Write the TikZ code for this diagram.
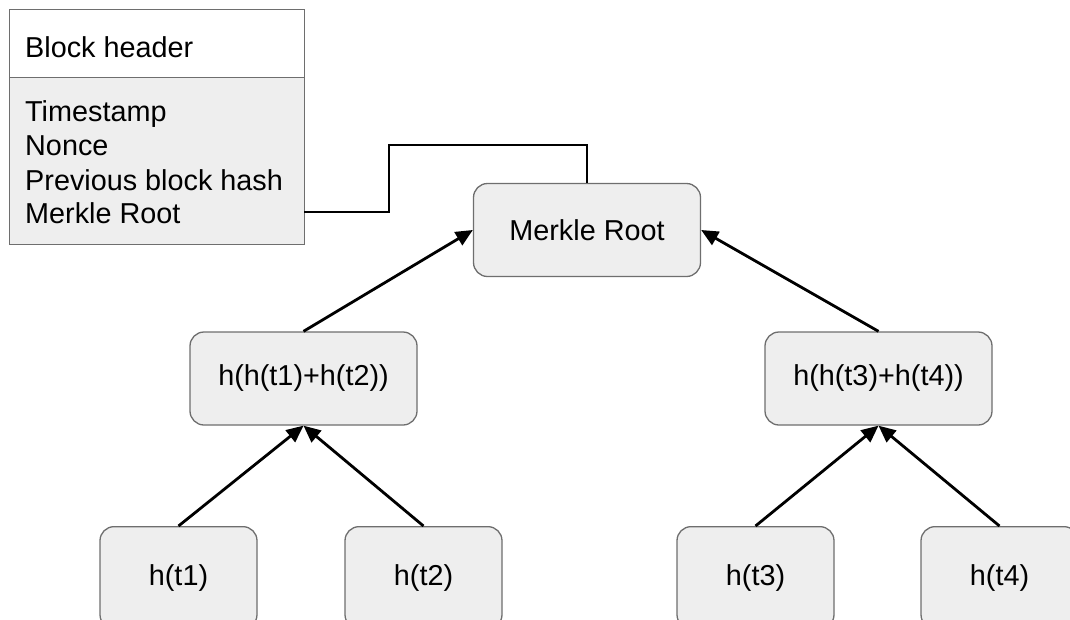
\documentclass[tikz,border=0pt]{standalone}
\usepackage{fontspec}
\setmainfont{Liberation Sans}
\usetikzlibrary{arrows.meta}
\definecolor{boxfill}{HTML}{EEEEEE}
\definecolor{boxline}{HTML}{6E6E6E}
\tikzset{
  hashbox/.style={draw=boxline, line width=1.3pt, fill=boxfill, rounded corners=14pt,
    minimum width=227pt, minimum height=93pt, inner sep=0pt,
    font=\fontsize{28.8}{34.5}\selectfont},
  leafbox/.style={hashbox, minimum width=157pt, minimum height=102pt},
  fieldtext/.style={anchor=base west, inner sep=0pt, font=\fontsize{28.8}{34.5}\selectfont},
  link/.style={line width=2.8pt, -{Triangle[length=17pt,width=15pt]}},
  wire/.style={line width=2.8pt}
}
\begin{document}
\begin{tikzpicture}[x=1pt,y=-1pt]
  \useasboundingbox (0,0) rectangle (1070,619);
  \clip (0,0) rectangle (1070,619);

  % block header table
  \node[draw=boxline, line width=1.3pt, fill=white, minimum width=295pt, minimum height=68pt,
        inner sep=0pt, anchor=north west] (hdr) at (9,9) {};
  \node[draw=boxline, line width=1.3pt, fill=boxfill, minimum width=295pt, minimum height=167pt,
        inner sep=0pt, anchor=north west] (fields) at (9,77) {};
  \node[fieldtext] (title) at (25,57.5) {Block header};
  \node[fieldtext] (f1) at (25,121) {Timestamp};
  \node[fieldtext] (f2) at (25,155.5) {Nonce};
  \node[fieldtext] (f3) at (25,190) {Previous block hash};
  \node[fieldtext] (f4) at (25,223.5) {Merkle Root};
  \coordinate (port) at (304,212);

  % merkle tree
  \node[hashbox] (root) at (587,230) {Merkle Root};
  \node[hashbox] (h12) at (303.5,378.5) {h(h(t1)+h(t2))};
  \node[hashbox] (h34) at (878.5,378.5) {h(h(t3)+h(t4))};
  \node[leafbox, anchor=north] (t1) at (178.5,526) {h(t1)};
  \node[leafbox, anchor=north] (t2) at (423.5,526) {h(t2)};
  \node[leafbox, anchor=north] (t3) at (755.5,526) {h(t3)};
  \node[leafbox, anchor=north] (t4) at (999.5,526) {h(t4)};

  % header field to root
  \draw[wire] (port) -- (389,212) -- (389,145) -| (root.north);

  % hash links
  \draw[link] (h12.north) -- (root.west);
  \draw[link] (h34.north) -- (root.east);
  \draw[link] (t1.north) -- (h12.south);
  \draw[link] (t2.north) -- (h12.south);
  \draw[link] (t3.north) -- (h34.south);
  \draw[link] (t4.north) -- (h34.south);
\end{tikzpicture}
\end{document}
